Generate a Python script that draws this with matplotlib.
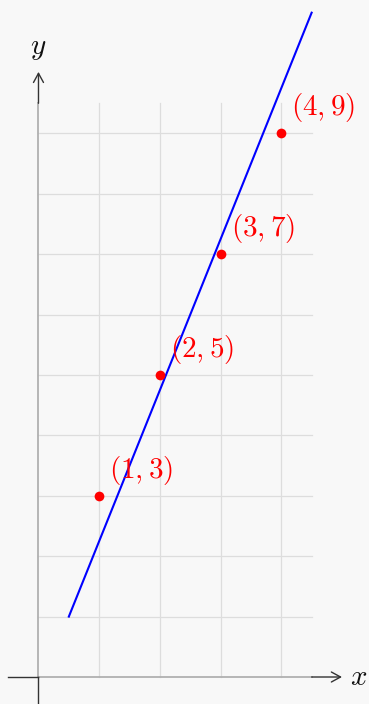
import matplotlib
matplotlib.use("Agg")
import matplotlib.pyplot as plt

plt.rcParams["mathtext.fontset"] = "cm"

# Sample points and the fitted line drawn through them
point_x = [1, 2, 3, 4]
point_y = [3, 5, 7, 9]
line_x = [0.5, 4.5]
line_y = [1, 11]
grid_x = [1, 2, 3, 4]
grid_y = [1, 2, 3, 4, 5, 6, 7, 8, 9]

BG = "#f8f8f8"
AXIS_DARK = "#333333"
AXIS_LIGHT = "#b0b0b0"
GRID = "#dddddd"

fig = plt.figure(figsize=(3.69, 7.04), dpi=100, facecolor=BG)
ax = fig.add_axes([0, 0, 1, 1])
ax.set_facecolor(BG)
ax.set_xlim(-0.634, 5.445)
ax.set_ylim(-0.447, 11.21)
ax.axis("off")

# grid
for gx in grid_x:
    ax.plot([gx, gx], [0, 9.5], color=GRID, lw=0.9, zorder=1)
for gy in grid_y:
    ax.plot([0, 4.5], [gy, gy], color=GRID, lw=0.9, zorder=1)

# axes: light inside the grid, dark outside, with open arrowheads
ax.plot([0, 4.5], [0, 0], color=AXIS_LIGHT, lw=1.3, zorder=2)
ax.plot([0, 0], [0, 9.5], color=AXIS_LIGHT, lw=1.3, zorder=2)
ax.plot([-0.5, 0], [0, 0], color=AXIS_DARK, lw=1.0, zorder=2)
ax.plot([0, 0], [-0.5, 0], color=AXIS_DARK, lw=1.0, zorder=2)
arrow = dict(arrowstyle="->,head_length=0.55,head_width=0.3", color=AXIS_DARK,
             lw=1.0, shrinkA=0, shrinkB=0, mutation_scale=12)
ax.annotate("", xy=(5.0, 0), xytext=(4.5, 0), arrowprops=arrow)
ax.annotate("", xy=(0, 10.02), xytext=(0, 9.5), arrowprops=arrow)
ax.text(5.27, 0, "$x$", fontsize=21, ha="center", va="center", color="#111111")
ax.text(0, 10.41, "$y$", fontsize=21, ha="center", va="center", color="#111111")

# fitted line
ax.plot(line_x, line_y, color="#0000ff", lw=1.5, zorder=3)

# data points with coordinate labels
ax.plot(point_x, point_y, "o", color="#ff0000", ms=7, mec="none", zorder=4)
for px, py in zip(point_x, point_y):
    ax.annotate(f"$({px},{py})$", xy=(px, py), xytext=(10, 9),
                textcoords="offset pixels", ha="left", va="bottom",
                fontsize=21, color="#ff0000", zorder=5)

fig.savefig("out.png", dpi=100, facecolor=BG)
